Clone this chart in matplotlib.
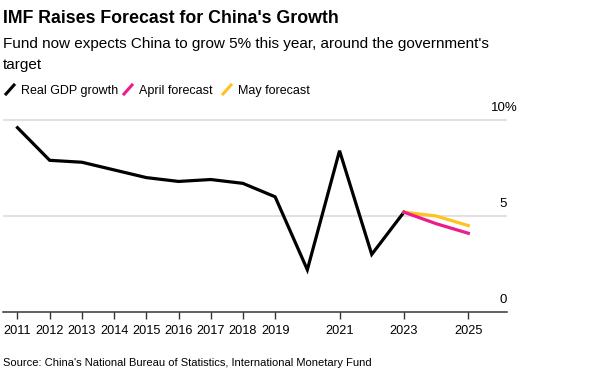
import matplotlib.pyplot as plt
from matplotlib.lines import Line2D

plt.rcParams['font.family'] = ['Liberation Sans', 'DejaVu Sans']

# data
years = [2011, 2012, 2013, 2014, 2015, 2016, 2017, 2018, 2019, 2020, 2021, 2022, 2023]
gdp = [9.6, 7.9, 7.8, 7.4, 7.0, 6.8, 6.9, 6.7, 6.0, 2.2, 8.4, 3.0, 5.2]
fc_years = [2023, 2024, 2025]
april = [5.2, 4.6, 4.1]
may = [5.2, 5.0, 4.5]
tick_years = [2011, 2012, 2013, 2014, 2015, 2016, 2017, 2018, 2019, 2021, 2023, 2025]

pink = '#ec1c8c'
yellow = '#ffc31f'

fig = plt.figure(figsize=(6.15, 3.75), dpi=100)
ax = fig.add_axes([3 / 615, 1 - 312 / 375, 504 / 615, (312 - 110.4) / 375])

for v in [5, 10]:
    ax.axhline(v, color='#e2e2e2', lw=1.5, zorder=0)

ax.plot(years, gdp, color='black', lw=2.3, solid_joinstyle='miter')
ax.plot(fc_years, may, color=yellow, lw=2.3)
ax.plot(fc_years, april, color=pink, lw=2.3)

ax.set_xlim(2010.55, 2026.2)
ax.set_ylim(0, 10.5)
ax.set_xticks(tick_years)
ax.set_xticklabels([str(y) for y in tick_years], fontsize=9.2)
ax.set_yticks([])
for s in ['top', 'right', 'left']:
    ax.spines[s].set_visible(False)
ax.spines['bottom'].set_color('#333333')
ax.spines['bottom'].set_linewidth(1.1)
ax.tick_params(axis='x', length=5, width=1, color='#333333', pad=4)

# y labels sit above the gridlines on the right; the "%" hangs past the edge
for v, lab, dx in [(10, '10%', 8.0), (5, '5', 0), (0, '0', 0)]:
    ax.annotate(lab, xy=(1.0, v), xycoords=('axes fraction', 'data'),
                xytext=(dx, 6.5), textcoords='offset points',
                ha='right', va='baseline', fontsize=9.5)

fig.text(3 / 615, 1 - 23 / 375, "IMF Raises Forecast for China's Growth",
         fontsize=12.8, fontweight='bold', ha='left', va='baseline')
fig.text(3 / 615, 1 - 48 / 375,
         "Fund now expects China to grow 5% this year, around the government's",
         fontsize=11, ha='left', va='baseline')
fig.text(3 / 615, 1 - 69 / 375, "target", fontsize=11, ha='left', va='baseline')

# legend with slash markers
leg = [(6, 'black', 'Real GDP growth'), (124, pink, 'April forecast'),
       (223, yellow, 'May forecast')]
for x0, c, lab in leg:
    fig.add_artist(Line2D([x0 / 615, (x0 + 8) / 615],
                          [1 - 94 / 375, 1 - 85 / 375],
                          color=c, lw=2.2, transform=fig.transFigure))
    fig.text((x0 + 15) / 615, 1 - 94 / 375, lab, fontsize=9,
             ha='left', va='baseline')

fig.text(3 / 615, 1 - 366 / 375,
         "Source: China's National Bureau of Statistics, International Monetary Fund",
         fontsize=8, ha='left', va='baseline')

fig.savefig('out.png', dpi=100)
